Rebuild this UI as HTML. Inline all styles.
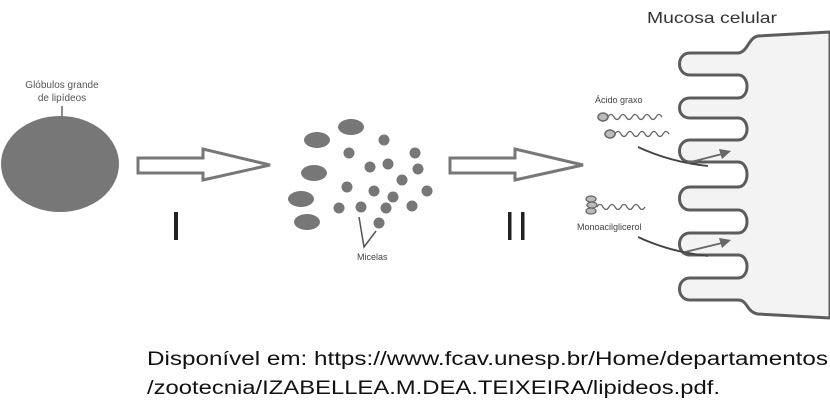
<!DOCTYPE html>
<html><head><meta charset="utf-8"><style>
html,body{margin:0;padding:0;background:#fff;width:830px;height:404px;overflow:hidden}
svg{display:block}
</style></head><body>
<svg width="830" height="404" viewBox="0 0 830 404" xmlns="http://www.w3.org/2000/svg" font-family="Liberation Sans, sans-serif">
<text x="62" y="88" font-size="10" text-anchor="middle" fill="#555">Glóbulos grande</text>
<text x="62" y="101" font-size="10" text-anchor="middle" fill="#555">de lipídeos</text>
<line x1="62" y1="106" x2="62" y2="118" stroke="#666" stroke-width="1.5"/>
<ellipse cx="60" cy="164" rx="59" ry="48" fill="#777"/>
<path d="M138,158 L203,158 L203,149 L270,165 L203,180 L203,173 L138,173 Z" fill="#fff" stroke="#777" stroke-width="3"/>
<rect x="174" y="212" width="4" height="28" fill="#222"/>
<path d="M450,158 L515,158 L515,149 L583,165 L515,180 L515,173 L450,173 Z" fill="#fff" stroke="#777" stroke-width="3"/>
<rect x="508" y="212" width="3.5" height="28" fill="#222"/>
<rect x="521" y="212" width="3.5" height="28" fill="#222"/>
<g fill="#777">
<ellipse cx="317" cy="140" rx="13" ry="8"/>
<ellipse cx="351" cy="127" rx="13" ry="8"/>
<ellipse cx="314" cy="173" rx="13" ry="8"/>
<ellipse cx="301" cy="199" rx="13" ry="8"/>
<ellipse cx="307" cy="222" rx="13" ry="8"/>
<circle cx="349" cy="153" r="5.5"/><circle cx="384" cy="140" r="5.5"/>
<circle cx="415" cy="153" r="5.5"/><circle cx="370" cy="167" r="5.5"/>
<circle cx="388" cy="164" r="5.5"/><circle cx="418" cy="169" r="5.5"/>
<circle cx="402" cy="180" r="5.5"/><circle cx="347" cy="187" r="5.5"/>
<circle cx="374" cy="191" r="5.5"/><circle cx="393" cy="197" r="5.5"/>
<circle cx="427" cy="191" r="5.5"/><circle cx="339" cy="208" r="5.5"/>
<circle cx="361" cy="207" r="5.5"/><circle cx="386" cy="208" r="5.5"/>
<circle cx="412" cy="206" r="5.5"/><circle cx="379" cy="223" r="5.5"/>
</g>
<polyline points="359,217 364,247 376,231" fill="none" stroke="#555" stroke-width="1.5"/>
<text x="357" y="260" font-size="9" fill="#444">Micelas</text>
<text x="647" y="23" font-size="16" fill="#333" textLength="130" lengthAdjust="spacingAndGlyphs">Mucosa celular</text>
<path d="M830,32 L758,36 C748,38 748,52 738,53 L690,53 C676,53 676,75 690,75 L738,75 C750,75 750,98 738,98 L690,98 C676,98 676,118 690,118 L738,118 C750,118 750,140 738,140 L690,140 C676,140 676,162 690,162 L738,162 C750,162 750,187 738,187 L690,187 C676,187 676,210 690,210 L738,210 C750,210 750,233 738,233 L690,233 C676,233 676,255 690,255 L738,255 C750,255 750,278 738,278 L690,278 C676,278 676,300 690,300 L738,300 C748,300 746,312 758,314 L830,318 L830,32 Z" fill="#f3f3f3" stroke="#5c5c5c" stroke-width="3"/>
<text x="595" y="103" font-size="9" fill="#444">Ácido graxo</text>
<ellipse cx="603" cy="117" rx="5" ry="4" fill="#bbb" stroke="#666" stroke-width="1.5"/>
<path d="M608,117 q3,-5 6,0 t6,0 t6,0 t6,0 t6,0 t6,0 t6,0 t6,0 t6,0" fill="none" stroke="#666" stroke-width="1.3"/>
<ellipse cx="610" cy="134" rx="5" ry="4" fill="#bbb" stroke="#666" stroke-width="1.5"/>
<path d="M615,134 q3,-5 6,0 t6,0 t6,0 t6,0 t6,0 t6,0 t6,0 t6,0 t6,0" fill="none" stroke="#666" stroke-width="1.3"/>
<path d="M638,147 Q670,162 708,166" fill="none" stroke="#444" stroke-width="1.8"/>
<line x1="687" y1="163" x2="722" y2="154" stroke="#666" stroke-width="1.8"/>
<path d="M731,151 L719,149 L722,159 Z" fill="#666"/>
<ellipse cx="591" cy="199" rx="5" ry="3" fill="#bbb" stroke="#666" stroke-width="1.3"/>
<ellipse cx="592" cy="205" rx="5" ry="3" fill="#bbb" stroke="#666" stroke-width="1.3"/>
<ellipse cx="591" cy="211" rx="5" ry="3" fill="#bbb" stroke="#666" stroke-width="1.3"/>
<path d="M597,207 q3,-5 6,0 t6,0 t6,0 t6,0 t6,0 t6,0 t6,0 t6,0" fill="none" stroke="#666" stroke-width="1.3"/>
<text x="577" y="230" font-size="9" fill="#444">Monoacilglicerol</text>
<path d="M638,237 Q670,252 708,256" fill="none" stroke="#444" stroke-width="1.8"/>
<line x1="685" y1="252" x2="722" y2="243" stroke="#666" stroke-width="1.8"/>
<path d="M731,240 L719,238 L722,248 Z" fill="#666"/>
<text x="147" y="365" font-size="19" fill="#111" textLength="681" lengthAdjust="spacingAndGlyphs">Disponível em:  https://www.fcav.unesp.br/Home/departamentos</text>
<text x="147" y="394" font-size="19" fill="#111" textLength="573" lengthAdjust="spacingAndGlyphs">/zootecnia/IZABELLEA.M.DEA.TEIXEIRA/lipideos.pdf.</text>
</svg>
</body></html>
